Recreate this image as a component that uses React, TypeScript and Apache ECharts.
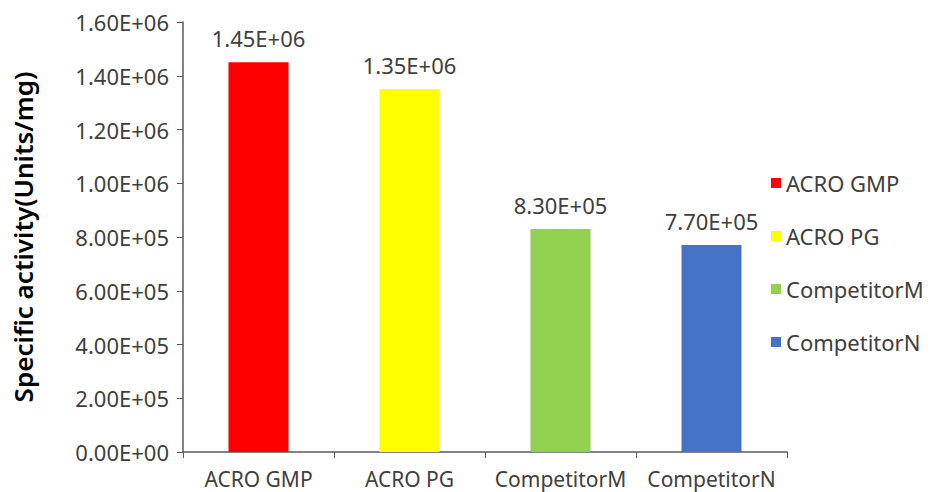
import React, { useEffect, useRef } from "react";
import * as echarts from "echarts";

const categories = ["ACRO GMP", "ACRO PG", "CompetitorM", "CompetitorN"];
const values = [1450000, 1350000, 830000, 770000];
const colors = ["#FF0000", "#FFFF00", "#92D050", "#4472C4"];
const yTicks = { min: 0, max: 1600000, interval: 200000 };

const FONT = "'Noto Sans', 'Noto Sans CJK SC', sans-serif";

function sci(v: number): string {
  if (v === 0) return "0.00E+00";
  const exp = Math.floor(Math.log10(Math.abs(v)) + 1e-9);
  const mant = v / Math.pow(10, exp);
  const sign = exp >= 0 ? "+" : "-";
  const e = Math.abs(exp).toString().padStart(2, "0");
  return `${mant.toFixed(2)}E${sign}${e}`;
}

export default function App() {
  const ref = useRef<HTMLDivElement>(null);
  useEffect(() => {
    if (!ref.current) return;
    const chart = echarts.init(ref.current, undefined, { renderer: "svg" });
    const series = categories.map((name, i) => ({
      name,
      type: "bar",
      barWidth: 60,
      barGap: "-100%",
      itemStyle: { color: colors[i] },
      label: {
        show: true,
        position: "top",
        distance: 13,
        formatter: (p: any) => sci(p.value),
        fontFamily: FONT,
        fontSize: 22,
        color: "#404040",
      },
      data: values.map((v, j) => (j === i ? v : "-")),
    }));
    chart.setOption({
      animation: false,
      backgroundColor: "#ffffff",
      textStyle: { fontFamily: FONT },
      grid: { left: 183, right: 143, top: 22, bottom: 40 },
      legend: {
        orient: "vertical",
        left: 766,
        top: 167,
        itemWidth: 10,
        itemHeight: 10,
        itemGap: 31,
        icon: "rect",
        textStyle: { fontFamily: FONT, fontSize: 22, color: "#404040" },
        data: categories,
      },
      xAxis: {
        type: "category",
        data: categories,
        axisLine: { lineStyle: { color: "#595959", width: 1.5 } },
        axisTick: { show: true, length: 6, lineStyle: { color: "#595959" } },
        axisLabel: {
          interval: 0,
          fontFamily: FONT,
          fontSize: 21,
          lineHeight: 22,
          color: "#404040",
          margin: 16,
        },
      },
      yAxis: {
        type: "value",
        min: yTicks.min,
        max: yTicks.max,
        interval: yTicks.interval,
        name: "Specific activity(Units/mg)",
        nameLocation: "middle",
        nameGap: 147,
        nameRotate: 90,
        nameTextStyle: { fontFamily: FONT, fontSize: 26, fontWeight: 600, color: "#000000" },
        axisLine: { show: true, lineStyle: { color: "#595959", width: 1.5 } },
        axisTick: { show: true, length: 6, lineStyle: { color: "#595959" } },
        splitLine: { show: false },
        axisLabel: {
          fontFamily: FONT,
          fontSize: 22,
          color: "#404040",
          margin: 14,
          formatter: (v: number) => sci(v),
        },
      },
      series,
    });
    return () => chart.dispose();
  }, []);
  return (
    <div
      ref={ref}
      style={{ position: "absolute", left: 0, top: 0, width: 930, height: 492 }}
    />
  );
}
